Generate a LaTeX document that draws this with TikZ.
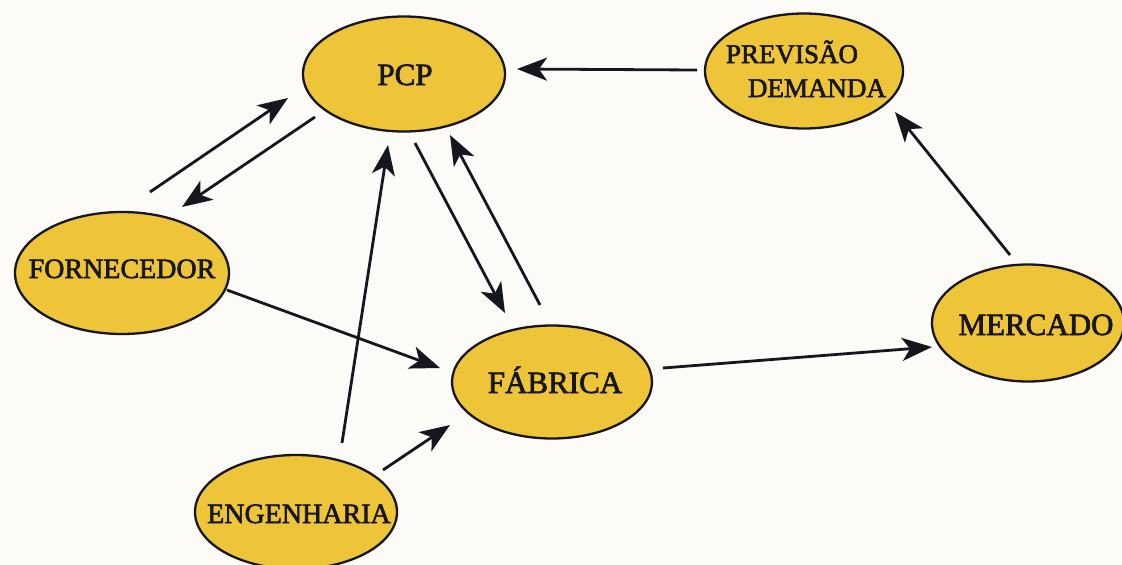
\documentclass[tikz,border=0pt]{standalone}
\usepackage{fontspec}
\setmainfont{Liberation Serif}
\newfontfamily\lblfont{Liberation Serif}[RawFeature={embolden=2.2}]
\usetikzlibrary{arrows.meta,calc,shapes.geometric}
\definecolor{bgpaper}{RGB}{252,251,247}
\definecolor{blobfill}{RGB}{238,196,56}
\definecolor{inkdark}{RGB}{22,22,30}
\tikzset{
  blob/.style={ellipse, draw=inkdark, line width=2.3pt, fill=blobfill, inner sep=0pt},
  lbl/.style={anchor=base, inner sep=0pt, text=inkdark, font=\lblfont\fontsize{31}{34}\selectfont},
  lblnarrow/.style={lbl, font=\lblfont\fontsize{28}{31}\selectfont},
  lblsmall/.style={lbl, font=\lblfont\fontsize{27}{30}\selectfont},
  flow/.style={draw=inkdark, line width=2.8pt, -{Stealth[length=30pt,width=23pt,inset=8pt]}}
}
\begin{document}
\begin{tikzpicture}[x=1pt,y=-1pt]
  \fill[bgpaper] (0,0) rectangle (1122,565);
  \useasboundingbox (0,0) rectangle (1122,565);

  % ellipses
  \node[blob, minimum width=202pt, minimum height=115pt] (pcp)  at (404,74)  {};
  \node[blob, minimum width=198pt, minimum height=115pt] (prev) at (804,71)  {};
  \node[blob, minimum width=214pt, minimum height=122pt] (forn) at (122,273) {};
  \node[blob, minimum width=200pt, minimum height=113pt] (fab)  at (552,382) {};
  \node[blob, minimum width=192pt, minimum height=117pt] (merc) at (1028,323) {};
  \node[blob, minimum width=202pt, minimum height=114pt] (eng)  at (296,512) {};

  % labels
  \node[lbl] (pcpT)  at (405,85)  {PCP};
  \node[lblsmall] (prevA) at (792,63) {PREVISÃO};
  \node[lblsmall] (prevB) at (817,97) {DEMANDA};
  \node[lblnarrow] (fornT) at (122,278) {FORNECEDOR};
  \node[lbl] (fabT)  at (555,393) {FÁBRICA};
  \node[lbl] (mercT) at (1036,335) {MERCADO};
  \node[lblnarrow] (engT)  at (299,523) {ENGENHARIA};

  % flows
  \draw[flow] ($(prev)+(-107,-1)$) -- ($(pcp)+(113,-5)$);
  \draw[flow] ($(merc)+(-18,-68)$) -- ($(prev)+(91,41)$);
  \draw[flow] ($(fab)+(111,-14)$)  -- ($(merc)+(-96,24)$);
  \draw[flow] ($(forn)+(28,-81)$)  -- ($(pcp)+(-116,24)$);
  \draw[flow] ($(pcp)+(-89,43)$)   -- ($(forn)+(60,-66)$);
  \draw[flow] ($(eng)+(46,-69)$)   -- ($(pcp)+(-16,71)$);
  \draw[flow] ($(pcp)+(11,69)$)    -- ($(fab)+(-47,-69)$);
  \draw[flow] ($(fab)+(-12,-77)$)  -- ($(pcp)+(46,61)$);
  \draw[flow] ($(forn)+(105,17)$)  -- ($(fab)+(-112,-14)$);
  \draw[flow] ($(eng)+(87,-42)$)   -- ($(fab)+(-102,43)$);
\end{tikzpicture}
\end{document}
